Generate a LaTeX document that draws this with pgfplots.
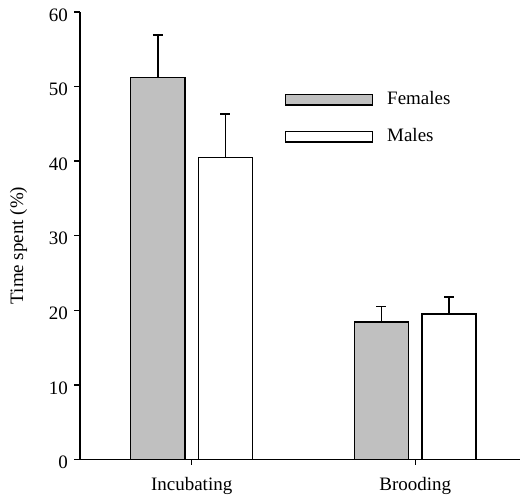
\documentclass[border=0pt]{standalone}
\usepackage{fontspec}
\setmainfont{Liberation Serif}
\usepackage{pgfplots}
\pgfplotsset{compat=1.18}
\definecolor{barg}{HTML}{C0C0C0}
\begin{document}
\fontsize{19}{22}\selectfont
\begin{tikzpicture}[font=\fontsize{19}{22}\selectfont]
\path (-80pt,-36pt) rectangle (441pt,460pt);
\begin{axis}[
 scale only axis, width=441pt, height=448pt,
 xmin=-0.5, xmax=1.47, ymin=0, ymax=60,
 axis lines*=left,
 axis line style={line width=1.4pt},
 xtick={0,1}, xticklabels={Incubating,Brooding},
 ytick={0,10,...,60},
 tick align=outside, major tick length=5.5pt,
 tick style={line width=1.4pt, black},
 ybar=13.3pt, bar width=54.4pt,
 ylabel={Time spent (\%)},
 ylabel style={at={(axis description cs:-0.105,0.478)}, anchor=south},
 /pgf/number format/assume math mode=true,
 yticklabel style={yshift=-3pt},
 xticklabel style={yshift=-6pt},
 error bars/y dir=plus, error bars/y explicit,
 error bars/error mark options={rotate=90, mark size=5pt, line width=1.5pt, black},
 error bars/error bar style={line width=1.5pt, black},
 legend image code/.code={\path[draw,#1] (0pt,-5.25pt) rectangle (87pt,5.25pt);},
 legend style={draw=none, fill=none, at={(axis description cs:0.4649,0.8225)}, anchor=north west, inner sep=0pt, row sep=21pt, column sep=14pt, nodes={inner sep=0pt, anchor=west}},
]
\addplot[fill=barg, draw=black, line width=1.5pt] coordinates {(0,51.2) +- (0,5.7) (1,18.4) +- (0,2.1)};
\addlegendentry{Females}
\addplot[fill=white, draw=black, line width=1.5pt] coordinates {(0,40.5) +- (0,5.8) (1,19.5) +- (0,2.3)};
\addlegendentry{Males}
\end{axis}
\end{tikzpicture}
\end{document}
